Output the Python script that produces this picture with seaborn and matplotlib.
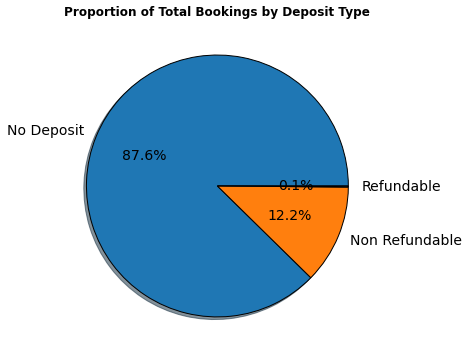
import matplotlib
matplotlib.use("Agg")
import matplotlib.pyplot as plt
import seaborn as sns

deposit_types = ["No Deposit", "Non Refundable", "Refundable"]
booking_counts = [104641, 14587, 162]

sns.set_style("white")
plt.rcParams["text.color"] = "black"
colors = sns.color_palette("tab10")[:3]
colors = [colors[0], colors[1], colors[0]]

fig = plt.figure(figsize=(469 / 72, 356 / 72), dpi=72)
ax = fig.add_axes([0.1145, 0.0176, 0.698, 0.92])
ax.pie(booking_counts, labels=deposit_types, autopct="%1.1f%%", shadow=True,
       startangle=0, colors=colors,
       wedgeprops={"edgecolor": "black", "linewidth": 1},
       textprops={"fontsize": 14, "color": "black"})
ax.set_title("Proportion of Total Bookings by Deposit Type", fontsize=12,
             fontweight="bold", color="black")
fig.savefig("out.png", dpi=72, facecolor="white")
